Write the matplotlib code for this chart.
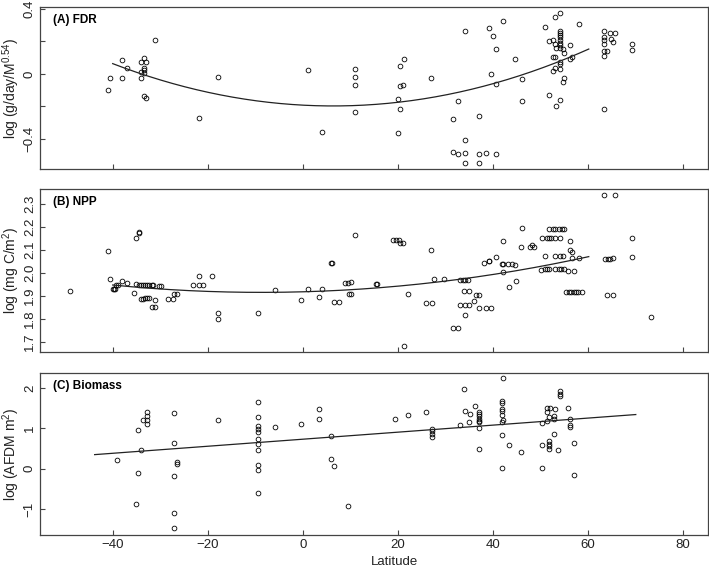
# Latitude plots: FDR, NPP and Biomass (three stacked panels)
import numpy as np
import matplotlib.pyplot as plt

plt.rcParams['font.family'] = ['Liberation Sans', 'DejaVu Sans']
plt.rcParams['mathtext.default'] = 'regular'

# ---- (A) FDR data (latitude, log FDR) ----
lat_a = [-41.0, -40.5, -38.0, -38.0, -36.9, -34.1, -33.5, -33.0, -33.5, -33.5, -34.1, -33.5, -34.1,
         -33.5, -33.0, -31.0, -21.9, -17.9, 1.1, 4.1, 11.1, 11.1, 11.1, 11.1, 20.5, 21.4, 20.5,
         21.1, 20.1, 20.5, 20.1, 27.1, 32.7, 31.7, 34.1, 34.1, 31.7, 32.7, 34.1, 34.1, 37.1, 37.1,
         37.1, 38.6, 40.7, 39.2, 40.0, 40.7, 39.7, 40.7, 42.1, 44.7, 46.1, 46.1, 51.0, 51.8, 52.7,
         53.2, 54.2, 54.2, 54.2, 54.2, 54.2, 54.2, 54.2, 54.2, 54.2, 53.2, 53.4, 54.7, 55.0, 56.2,
         52.7, 53.2, 54.2, 54.2, 56.2, 56.7, 53.2, 52.7, 54.2, 55.0, 54.8, 51.8, 54.2, 53.4, 58.2,
         63.5, 63.5, 63.5, 63.5, 63.5, 64.0, 63.5, 64.7, 65.7, 64.9, 65.3, 63.5, 69.2, 69.2]
fdr_a = [-0.097, -0.023, 0.088, -0.023, 0.035, 0.076, 0.096, 0.076, 0.035, 0.023, 0.014, 0.006, -0.023,
         -0.137, -0.145, 0.211, -0.273, -0.021, 0.022, -0.355, 0.033, -0.021, -0.070, -0.234, 0.049,
         0.094, -0.074, -0.068, -0.154, -0.213, -0.361, -0.023, -0.164, -0.279, 0.263, -0.406, -0.482,
         -0.492, -0.485, -0.550, -0.258, -0.492, -0.550, -0.484, -0.492, 0.285, 0.232, 0.154, 0.0,
         -0.064, 0.326, 0.094, -0.031, -0.164, 0.291, 0.203, 0.209, 0.353, 0.373, 0.267, 0.254, 0.242,
         0.226, 0.209, 0.193, 0.178, 0.158, 0.183, 0.158, 0.151, 0.131, 0.178, 0.103, 0.103, 0.075,
         0.061, 0.094, 0.103, 0.035, 0.021, 0.031, -0.023, -0.047, -0.131, -0.158, -0.197, 0.306,
         0.265, 0.226, 0.211, 0.183, 0.144, 0.144, 0.111, 0.252, 0.252, 0.213, 0.199, -0.213, 0.183, 0.148]
# quadratic fit: y = a*(x - xv)^2 + yv
fit_a = {'a': 1.21e-4, 'xv': 6.4, 'yv': -0.197, 'x0': -40.0, 'x1': 60.2}

# ---- (B) NPP data ----
lat_b = [-49.0, -41.0, -40.5, -40.0, -39.8, -39.6, -39.4, -38.9, -38.0, -36.9, -35.6, -35.0, -34.5,
         -34.4, -35.0, -34.5, -34.0, -33.6, -33.2, -32.8, -32.3, -31.8, -31.5, -34.0, -33.6, -33.2,
         -32.7, -32.3, -31.7, -31.2, -31.0, -30.3, -29.9, -28.4, -27.4, -27.1, -26.5, -23.0, -21.9,
         -21.8, -20.9, -19.1, -17.9, -17.9, -9.4, -5.9, -0.4, 1.1, 3.4, 4.1, 6.0, 6.1, 6.6, 7.6,
         9.0, 9.5, 10.1, 9.8, 10.1, 11.1, 15.5, 15.6, 19.1, 19.6, 20.2, 20.5, 21.1, 22.1, 21.4,
         27.1, 27.6, 29.8, 26.0, 27.3, 33.2, 33.7, 34.2, 34.7, 33.9, 35.1, 36.5, 37.1, 36.1, 33.2,
         34.1, 35.1, 34.1, 37.1, 38.6, 39.7, 31.7, 32.7, 38.1, 39.1, 39.3, 40.7, 42.1, 41.9, 42.2,
         43.2, 44.0, 44.7, 42.1, 44.9, 43.4, 46.1, 45.9, 47.9, 48.3, 48.7, 50.1, 51.0, 51.5, 51.9,
         50.4, 51.5, 51.9, 52.2, 53.0, 54.2, 51.8, 52.6, 53.2, 53.9, 54.5, 55.0, 51.0, 53.2, 54.2,
         54.8, 56.2, 56.2, 56.7, 56.7, 58.2, 53.2, 53.9, 54.4, 55.0, 55.8, 57.2, 55.5, 56.0, 56.5,
         57.0, 57.5, 58.0, 58.7, 63.5, 65.7, 63.7, 64.2, 64.6, 65.3, 64.0, 65.2, 69.2, 69.2, 73.2]
npp_b = [1.921, 2.095, 1.975, 1.932, 1.930, 1.932, 1.948, 1.948, 1.966, 1.955, 1.914, 2.152, 2.176,
         2.178, 1.952, 1.948, 1.948, 1.948, 1.948, 1.948, 1.948, 1.948, 1.948, 1.887, 1.889, 1.891,
         1.891, 1.891, 1.852, 1.852, 1.883, 1.944, 1.944, 1.888, 1.888, 1.907, 1.907, 1.946, 1.987,
         1.946, 1.946, 1.987, 1.828, 1.802, 1.828, 1.927, 1.881, 1.929, 1.897, 1.929, 2.045, 2.044,
         1.876, 1.876, 1.955, 1.955, 1.962, 1.907, 1.907, 2.165, 1.951, 1.951, 2.144, 2.144, 2.144,
         2.132, 2.132, 1.907, 1.683, 2.102, 1.974, 1.974, 1.868, 1.868, 1.969, 1.969, 1.969, 1.969,
         1.924, 1.924, 1.905, 1.905, 1.878, 1.859, 1.859, 1.859, 1.818, 1.847, 1.847, 1.847, 1.763,
         1.763, 2.045, 2.052, 2.052, 2.071, 2.137, 2.041, 2.041, 2.041, 2.041, 2.035, 2.006, 1.967,
         1.938, 2.195, 2.112, 2.112, 2.122, 2.112, 2.013, 2.017, 2.017, 2.017, 2.154, 2.154, 2.154,
         2.154, 2.154, 2.154, 2.191, 2.191, 2.191, 2.191, 2.191, 2.191, 2.073, 2.073, 2.073, 2.073,
         2.137, 2.100, 2.090, 2.066, 2.066, 2.017, 2.017, 2.017, 2.017, 2.009, 2.009, 1.918, 1.918,
         1.918, 1.918, 1.918, 1.918, 1.918, 2.338, 2.338, 2.061, 2.061, 2.061, 2.066, 1.904, 1.904,
         2.150, 2.071, 1.808]
fit_b = {'a': 3.27e-5, 'xv': -8.7, 'yv': 1.916, 'x0': -40.0, 'x1': 60.2}

# ---- (C) Biomass data ----
lat_c = [-39.0, -35.0, -34.7, -34.6, -34.1, -33.7, -32.8, -32.8, -32.8, -32.8, -27.0, -27.0, -27.0,
         -27.0, -27.0, -26.5, -26.5, -17.9, -9.4, -9.4, -9.4, -9.4, -9.4, -9.4, -9.4, -9.4, -9.4,
         -9.4, -9.4, -5.9, -0.4, 3.4, 3.4, 6.0, 6.0, 6.6, 9.5, 19.5, 22.1, 26.0, 27.3, 27.3, 27.3,
         27.3, 33.2, 33.9, 34.1, 35.2, 35.1, 36.2, 37.1, 37.1, 37.1, 37.1, 37.1, 37.1, 37.1, 37.1,
         41.9, 41.9, 41.9, 41.9, 41.9, 42.2, 41.9, 42.2, 41.9, 43.4, 46.0, 41.9, 50.4, 50.4, 50.4,
         51.4, 52.0, 51.4, 51.8, 51.4, 51.8, 51.8, 51.8, 51.8, 53.2, 52.9, 52.9, 52.9, 53.7, 54.1,
         54.1, 54.1, 55.8, 56.2, 56.2, 56.2, 57.2, 57.2]
bio_c = [0.207, -0.885, -0.108, 0.968, 0.471, 1.216, 1.398, 1.315, 1.199, 1.100, 1.373, 0.629, -0.182,
         -1.092, -1.481, 0.157, 0.116, 1.208, 1.654, 1.282, 1.067, 0.984, 0.910, 0.736, 0.612, 0.463,
         0.099, -0.041, -0.612, 1.034, 1.117, 1.489, 1.224, 0.819, 0.248, 0.074, -0.918, 1.232, 1.323,
         1.414, 0.993, 0.926, 0.860, 0.786, 1.092, 1.985, 1.423, 1.356, 1.158, 1.563, 1.406, 1.356,
         1.299, 1.241, 1.191, 1.150, 1.009, 0.480, 1.671, 1.638, 1.481, 1.439, 1.323, 1.216, 1.158,
         2.250, 0.827, 0.579, 0.414, 0.017, 1.125, 0.596, 0.025, 1.514, 1.514, 1.398, 1.274, 1.175,
         0.678, 0.620, 0.562, 0.480, 1.489, 1.307, 1.241, 0.860, 0.463, 1.919, 1.861, 1.803, 1.497,
         1.232, 1.075, 1.034, 0.637, -0.149]
# linear fit
fit_c = {'slope': 0.00872, 'intercept': 0.729, 'x0': -43.8, 'x1': 70.1}

W, H = 709, 572
fig = plt.figure(figsize=(W / 100, H / 100), dpi=100)

spine_col = '#444444'
text_col = '#222222'


def make_axes(top, bottom):
    ax = fig.add_axes([40 / W, (H - bottom) / H, 668 / W, (bottom - top) / H])
    for s in ax.spines.values():
        s.set_color(spine_col)
        s.set_linewidth(0.9)
    ax.tick_params(direction='in', length=3.5, width=0.8, color=spine_col,
                   labelsize=9.5, labelcolor=text_col, pad=3)
    ax.set_xlim(-55.3, 85.3)
    ax.set_xticks([-40, -20, 0, 20, 40, 60, 80])
    return ax


def scatter(ax, x, y):
    ax.plot(x, y, 'o', ms=3.4, mfc='none', mec='black', mew=0.6, ls='none')


def set_ylab(ax, txt):
    ax.set_ylabel(txt, fontsize=10, color=text_col, va='center')
    ax.yaxis.set_label_coords(-29 / 668, 0.5)


# (A)
ax1 = make_axes(7, 169)
scatter(ax1, lat_a, fdr_a)
xa = np.linspace(fit_a['x0'], fit_a['x1'], 200)
ax1.plot(xa, fit_a['a'] * (xa - fit_a['xv']) ** 2 + fit_a['yv'], color='#222222', lw=0.9)
ax1.set_ylim(-0.585, 0.412)
ax1.set_yticks([-0.4, -0.2, 0, 0.2, 0.4])
ax1.set_yticklabels(['\u22120.4', '', '0', '', '0.4'], rotation=90, va='center')
ax1.set_xticklabels([])
set_ylab(ax1, 'log (g/day/M$^{0.54}$)')
ax1.text(0.019, 0.92, '(A) FDR', transform=ax1.transAxes, fontsize=8.5, fontweight='bold',
         va='center', ha='left')

# (B)
ax2 = make_axes(189, 352)
scatter(ax2, lat_b, npp_b)
xb = np.linspace(fit_b['x0'], fit_b['x1'], 200)
ax2.plot(xb, fit_b['a'] * (xb - fit_b['xv']) ** 2 + fit_b['yv'], color='#222222', lw=0.9)
ax2.set_ylim(1.657, 2.365)
yt = [1.7, 1.8, 1.9, 2.0, 2.1, 2.2, 2.3]
ax2.set_yticks(yt)
ax2.set_yticklabels([f'{v:.1f}' for v in yt], rotation=90, va='center')
ax2.set_xticklabels([])
set_ylab(ax2, 'log (mg C/m$^{2}$)')
ax2.text(0.019, 0.92, '(B) NPP', transform=ax2.transAxes, fontsize=8.5, fontweight='bold',
         va='center', ha='left')

# (C)
ax3 = make_axes(373, 535)
scatter(ax3, lat_c, bio_c)
xc = np.array([fit_c['x0'], fit_c['x1']])
ax3.plot(xc, fit_c['slope'] * xc + fit_c['intercept'], color='#222222', lw=0.9)
ax3.set_ylim(-1.645, 2.37)
ax3.set_yticks([-1, 0, 1, 2])
ax3.set_yticklabels(['\u22121', '0', '1', '2'], rotation=90, va='center')
ax3.set_xticklabels(['\u221240', '\u221220', '0', '20', '40', '60', '80'])
set_ylab(ax3, 'log (AFDM m$^{2}$)')
ax3.text(0.019, 0.92, '(C) Biomass', transform=ax3.transAxes, fontsize=8.5, fontweight='bold',
         va='center', ha='left')

fig.text(394 / W, 1 - 562 / H, 'Latitude', ha='center', va='center', fontsize=9.5, color=text_col)

fig.savefig('out.png', dpi=100)
